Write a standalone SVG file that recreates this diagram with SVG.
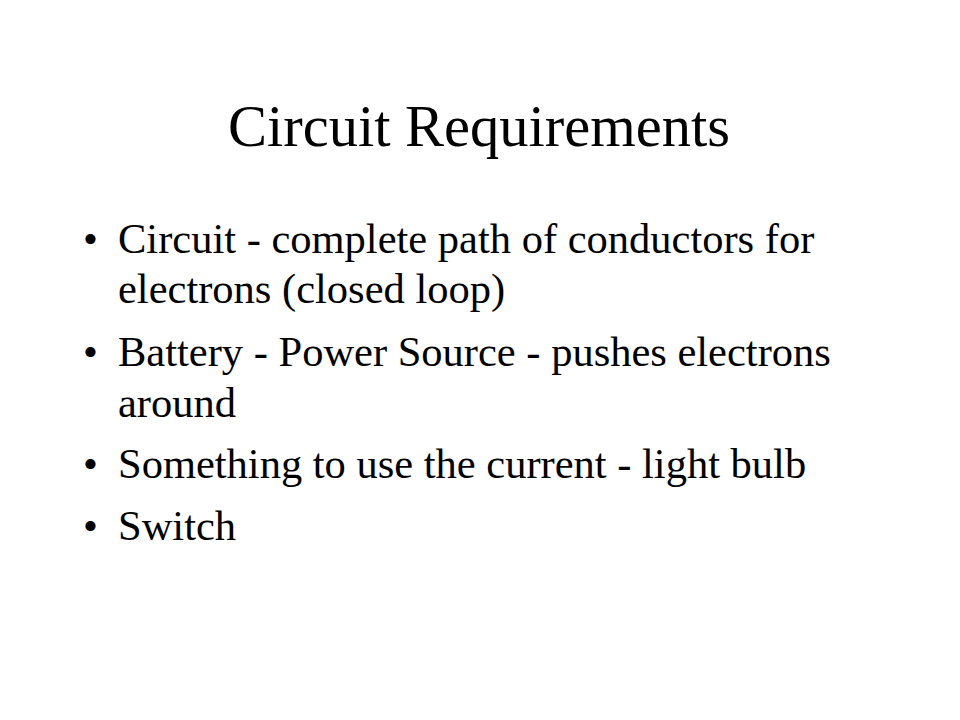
<svg xmlns="http://www.w3.org/2000/svg" width="960" height="720" viewBox="0 0 960 720">
<style>
text{font-family:"Liberation Serif","Times New Roman",serif;fill:#000}
.t{font-size:58.5px}
.b{font-size:42.5px}
</style>
<rect width="960" height="720" fill="#fff"/>
<g id="title"><text class="t" x="479" y="146" text-anchor="middle">Circuit Requirements</text></g>
<g id="bullets">
<text class="b" x="83" y="253">•</text>
<text class="b" x="118" y="253">Circuit - complete path of conductors for</text>
<text class="b" x="118" y="303">electrons (closed loop)</text>
<text class="b" x="83" y="366">•</text>
<text class="b" x="118" y="366">Battery - Power Source - pushes electrons</text>
<text class="b" x="118" y="417">around</text>
<text class="b" x="83" y="478">•</text>
<text class="b" x="118" y="478">Something to use the current - light bulb</text>
<text class="b" x="83" y="540">•</text>
<text class="b" x="118" y="540">Switch</text>
</g>
</svg>
